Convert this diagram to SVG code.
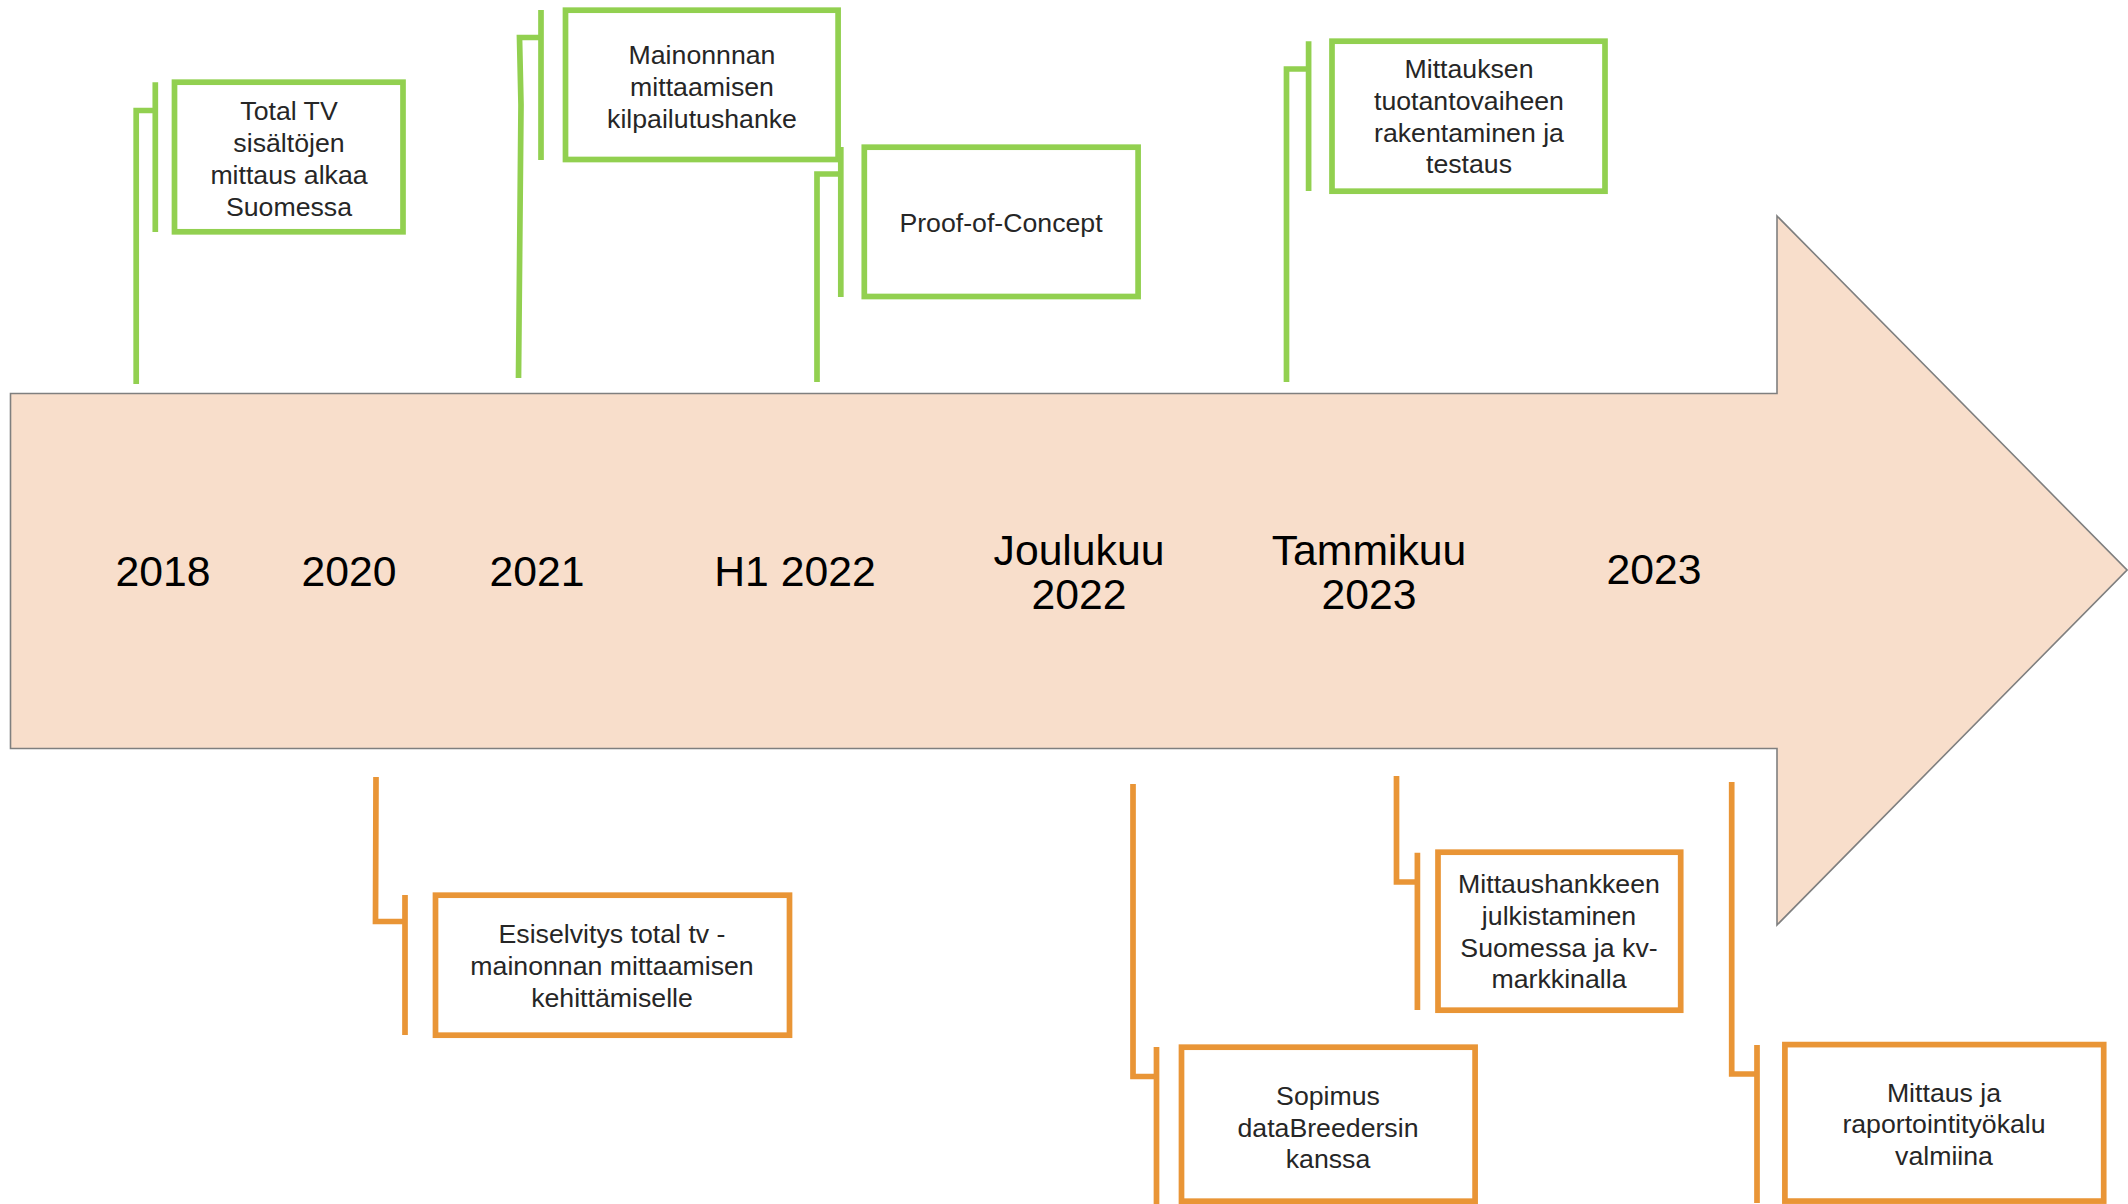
<svg xmlns="http://www.w3.org/2000/svg" width="2128" height="1204" viewBox="0 0 2128 1204">
<style>
.g{stroke:#92D050;fill:none;stroke-width:5.7}
.o{stroke:#E99536;fill:none;stroke-width:5.7}
.box{fill:#FFFFFF;stroke-width:5.7}
.t{font-family:"Liberation Sans",Arial,sans-serif;font-size:26.7px;fill:#262626;text-anchor:middle}
.y{font-family:"Liberation Sans",Arial,sans-serif;font-size:42.7px;fill:#000;text-anchor:middle}
</style>
<rect width="2128" height="1204" fill="#FFFFFF"/>
<g id="timeline-arrow">
<polygon points="10.5,393.5 1777,393.5 1777,216 2127,570 1777,925 1777,748.5 10.5,748.5" fill="#F8DECB" stroke="#7F7F7F" stroke-width="1.6"/>
<text class="y" x="163" y="586">2018</text>
<text class="y" x="349" y="586">2020</text>
<text class="y" x="537" y="586">2021</text>
<text class="y" x="795" y="586">H1 2022</text>
<text class="y" x="1079" y="565">Joulukuu</text>
<text class="y" x="1079" y="609">2022</text>
<text class="y" x="1369" y="565">Tammikuu</text>
<text class="y" x="1369" y="609">2023</text>
<text class="y" x="1654" y="584">2023</text>
</g>
<g id="connectors">
<polyline class="g" points="155.3,110.5 136.2,110.5 136.2,384"/>
<polyline class="g" points="541,37.5 519.5,37.5 521,105 518.5,378"/>
<polyline class="g" points="841,174 817,174 817,382"/>
<polyline class="g" points="1309,69 1286.5,69 1286.5,382"/>
<polyline class="o" points="405,921.5 375.5,921.5 376,777"/>
<polyline class="o" points="1156.5,1076.5 1133,1076.5 1133,784"/>
<polyline class="o" points="1417.4,882 1396.5,882 1396.5,776"/>
<polyline class="o" points="1757,1074 1731.7,1074 1731.7,782"/>
</g>
<g id="node-total-tv">
<line class="g" x1="155.3" y1="82.3" x2="155.3" y2="232"/>
<rect class="g box" x="174.5" y="82.2" width="228.5" height="149.6"/>
<text class="t" x="289" y="119.5">Total TV</text>
<text class="t" x="289" y="151.5">sisältöjen</text>
<text class="t" x="289" y="183.5">mittaus alkaa</text>
<text class="t" x="289" y="215.5">Suomessa</text>
</g>
<g id="node-kilpailutus">
<line class="g" x1="541" y1="10" x2="541" y2="160"/>
<rect class="g box" x="565.5" y="10.2" width="272.6" height="149.3"/>
<text class="t" x="702" y="64">Mainonnnan</text>
<text class="t" x="702" y="96">mittaamisen</text>
<text class="t" x="702" y="127.7">kilpailutushanke</text>
</g>
<g id="node-poc">
<line class="g" x1="840.8" y1="147" x2="840.8" y2="297"/>
<rect class="g box" x="864.3" y="147.2" width="273.8" height="149.3"/>
<text class="t" x="1001" y="232">Proof-of-Concept</text>
</g>
<g id="node-tuotanto">
<line class="g" x1="1308.6" y1="41.3" x2="1308.6" y2="191"/>
<rect class="g box" x="1332" y="41.2" width="273" height="150"/>
<text class="t" x="1469" y="78.3">Mittauksen</text>
<text class="t" x="1469" y="110">tuotantovaiheen</text>
<text class="t" x="1469" y="141.7">rakentaminen ja</text>
<text class="t" x="1469" y="173.3">testaus</text>
</g>
<g id="node-esiselvitys">
<line class="o" x1="405" y1="895" x2="405" y2="1035"/>
<rect class="o box" x="435.5" y="895.2" width="354" height="140"/>
<text class="t" x="612" y="942.7">Esiselvitys total tv -</text>
<text class="t" x="612" y="975">mainonnan mittaamisen</text>
<text class="t" x="612" y="1006.7">kehittämiselle</text>
</g>
<g id="node-sopimus">
<line class="o" x1="1156.5" y1="1047" x2="1156.5" y2="1204"/>
<rect class="o box" x="1181.5" y="1047.2" width="293.6" height="154"/>
<text class="t" x="1328" y="1105">Sopimus</text>
<text class="t" x="1328" y="1136.7">dataBreedersin</text>
<text class="t" x="1328" y="1168.3">kanssa</text>
</g>
<g id="node-julkistaminen">
<line class="o" x1="1417.4" y1="852.7" x2="1417.4" y2="1010"/>
<rect class="o box" x="1438" y="852.2" width="242.7" height="158"/>
<text class="t" x="1559" y="893.3">Mittaushankkeen</text>
<text class="t" x="1559" y="925">julkistaminen</text>
<text class="t" x="1559" y="956.7">Suomessa ja kv-</text>
<text class="t" x="1559" y="988.3">markkinalla</text>
</g>
<g id="node-valmiina">
<line class="o" x1="1757" y1="1045" x2="1757" y2="1203"/>
<rect class="o box" x="1784.9" y="1044.6" width="318.8" height="156.5"/>
<text class="t" x="1944" y="1101.7">Mittaus ja</text>
<text class="t" x="1944" y="1133.3">raportointityökalu</text>
<text class="t" x="1944" y="1165">valmiina</text>
</g>
</svg>
